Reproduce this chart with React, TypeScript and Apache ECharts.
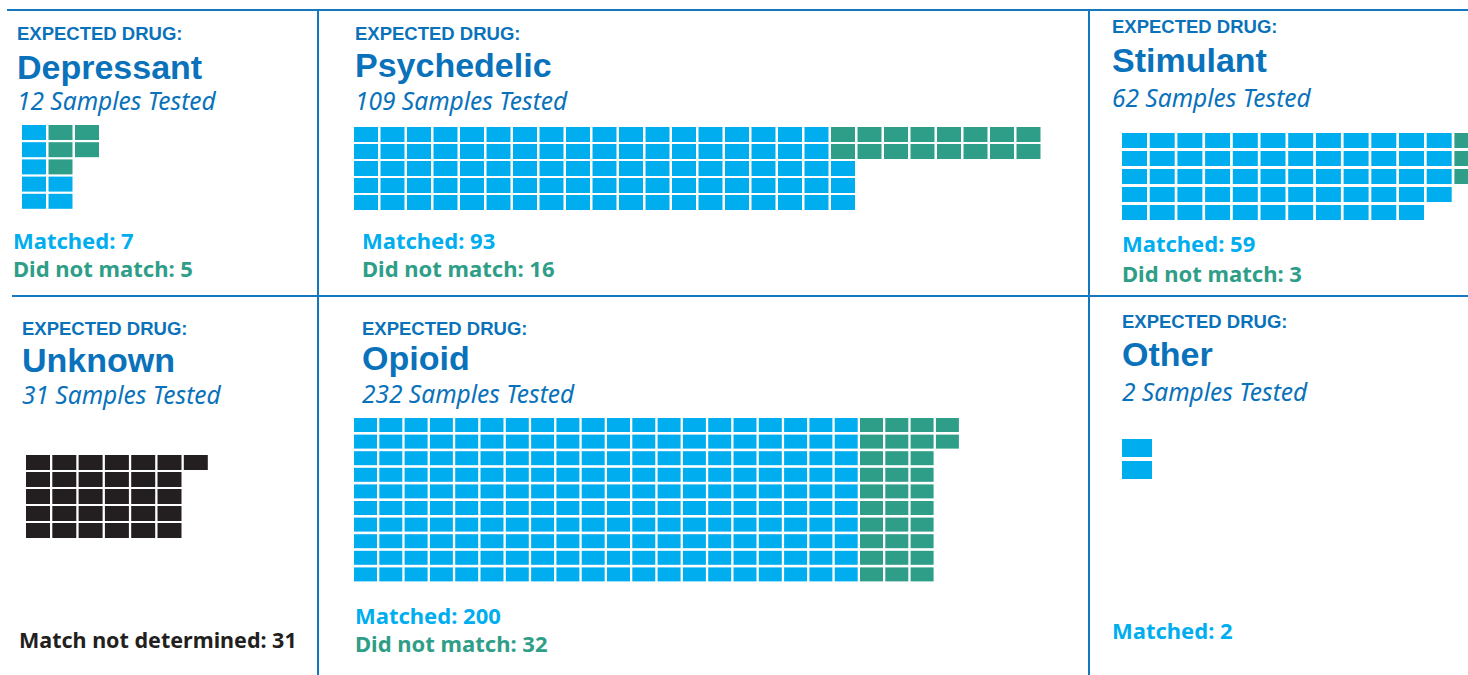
import React, { useEffect, useRef } from "react";
import * as echarts from "echarts";

// ---- DATA ----
const drugs = ["Depressant", "Psychedelic", "Stimulant", "Unknown", "Opioid", "Other"];
const samplesTested = [12, 109, 62, 31, 232, 2];
const matchedCounts = [7, 93, 59, 0, 200, 2];
const notMatchedCounts = [5, 16, 3, 0, 32, 0];
const undeterminedCounts = [0, 0, 0, 31, 0, 0];

// cells per waffle row (top row first)
const depressantMatchedRows = [1, 1, 1, 2, 2];
const depressantNotMatchedRows = [2, 2, 1, 0, 0];
const psychedelicMatchedRows = [18, 18, 19, 19, 19];
const psychedelicNotMatchedRows = [8, 8, 0, 0, 0];
const stimulantMatchedRows = [12, 12, 12, 12, 11];
const stimulantNotMatchedRows = [1, 1, 1, 0, 0];
const unknownUndeterminedRows = [7, 6, 6, 6, 6];
const opioidMatchedRows = [20, 20, 20, 20, 20, 20, 20, 20, 20, 20];
const opioidNotMatchedRows = [4, 4, 3, 3, 3, 3, 3, 3, 3, 3];
const otherMatchedRows = [1, 1];

const rowsMatched = [depressantMatchedRows, psychedelicMatchedRows, stimulantMatchedRows, [], opioidMatchedRows, otherMatchedRows];
const rowsNotMatched = [depressantNotMatchedRows, psychedelicNotMatchedRows, stimulantNotMatchedRows, [], opioidNotMatchedRows, []];
const rowsUndetermined = [[], [], [], unknownUndeterminedRows, [], []];

// ---- STYLE / LAYOUT ----
const C_MATCH = "#00AEEF";
const C_NOMATCH = "#2E9E88";
const C_UNDET = "#231F20";
const C_HEAD = "#0A72BA";
const C_LINE = "#1477C0";
const PAGE_W = 1468;

const layout = [
  { tx: 17, headY: 40, titleY: 79, subY: 109, lx: 13, l1Y: 248, l2Y: 276, g: { left: 22, top: 125, cols: 3, rows: 5, px: 26.5, py: 17.2, cw: 24, ch: 15 } },
  { tx: 355, headY: 40, titleY: 77, subY: 109, lx: 362, l1Y: 248, l2Y: 276, g: { left: 354, top: 127, cols: 26, rows: 5, px: 26.5, py: 17, cw: 24, ch: 15 } },
  { tx: 1112, headY: 33, titleY: 72, subY: 106, lx: 1122, l1Y: 251, l2Y: 281, g: { left: 1122, top: 133, cols: 13, rows: 5, px: 27.7, py: 18, cw: 25, ch: 15 } },
  { tx: 22, headY: 335, titleY: 372, subY: 403, lx: 19, l1Y: 647, l2Y: 0, g: { left: 26, top: 455, cols: 7, rows: 5, px: 26.3, py: 17, cw: 24, ch: 15 } },
  { tx: 362, headY: 335, titleY: 370, subY: 402, lx: 355, l1Y: 623, l2Y: 651, g: { left: 354, top: 418, cols: 24, rows: 10, px: 25.3, py: 16.6, cw: 23, ch: 14 } },
  { tx: 1122, headY: 328, titleY: 366, subY: 400, lx: 1112, l1Y: 638, l2Y: 0, g: { left: 1122, top: 439, cols: 1, rows: 2, px: 30, py: 22, cw: 30, ch: 18 } },
];

const SANS = "'Liberation Sans', Arial, sans-serif";
const NOTO = "'Noto Sans', sans-serif";

function txt(x: number, baseline: number, text: string, size: number, family: string, weight: string, fstyle: string, color: string) {
  return {
    type: "text",
    x,
    y: baseline - 0.35 * size,
    silent: true,
    style: {
      text,
      fill: color,
      fontSize: size,
      fontFamily: family,
      fontWeight: weight,
      fontStyle: fstyle,
      verticalAlign: "middle",
      align: "left",
    },
  };
}

function buildCells(i: number) {
  const cells: number[][] = [];
  const nRows = Math.max(rowsMatched[i].length, rowsNotMatched[i].length, rowsUndetermined[i].length);
  for (let r = 0; r < nRows; r++) {
    let c = 0;
    for (let k = 0; k < (rowsMatched[i][r] || 0); k++) cells.push([c++, r, 0]);
    for (let k = 0; k < (rowsNotMatched[i][r] || 0); k++) cells.push([c++, r, 1]);
    for (let k = 0; k < (rowsUndetermined[i][r] || 0); k++) cells.push([c++, r, 2]);
  }
  return cells;
}

export default function App() {
  const ref = useRef<HTMLDivElement>(null);
  useEffect(() => {
    if (!ref.current) return;
    const chart = echarts.init(ref.current, null, { renderer: "svg" });
    const colors = [C_MATCH, C_NOMATCH, C_UNDET];
    const grids: any[] = [];
    const xAxes: any[] = [];
    const yAxes: any[] = [];
    const series: any[] = [];
    const graphics: any[] = [];

    const line = (x1: number, y1: number, x2: number, y2: number) => ({
      type: "line",
      silent: true,
      shape: { x1, y1, x2, y2 },
      style: { stroke: C_LINE, lineWidth: 2 },
    });
    graphics.push(line(7, 10, PAGE_W, 10));
    graphics.push(line(12, 296, PAGE_W, 296));
    graphics.push(line(318, 10, 318, 675));
    graphics.push(line(1089, 10, 1089, 675));

    layout.forEach((L, i) => {
      const g = L.g;
      // keep the grid inside the page; extra columns are drawn unclipped past its edge
      const axisCols = Math.min(g.cols, Math.floor((PAGE_W - g.left) / g.px));
      grids.push({ left: g.left, top: g.top, width: axisCols * g.px, height: g.rows * g.py, containLabel: false });
      xAxes.push({ type: "value", gridIndex: i, min: 0, max: axisCols, show: false });
      yAxes.push({ type: "value", gridIndex: i, min: 0, max: g.rows, inverse: true, show: false });
      const gapX = g.px - g.cw;
      const gapY = g.py - g.ch;
      series.push({
        type: "custom",
        xAxisIndex: i,
        yAxisIndex: i,
        clip: false,
        silent: true,
        data: buildCells(i),
        renderItem: (params: any, api: any) => {
          const p = api.coord([api.value(0), api.value(1)]);
          const s = api.size([1, 1]);
          return {
            type: "rect",
            shape: { x: p[0], y: p[1], width: s[0] - gapX, height: s[1] - gapY },
            style: { fill: colors[api.value(2)] },
          };
        },
      });

      graphics.push(txt(L.tx, L.headY, "EXPECTED DRUG:", 18.5, SANS, "bold", "normal", C_HEAD));
      graphics.push(txt(L.tx, L.titleY, drugs[i], 34, SANS, "bold", "normal", C_HEAD));
      graphics.push(txt(L.tx, L.subY, `${samplesTested[i]} Samples Tested`, 24.5, NOTO, "normal", "italic", C_HEAD));
      if (undeterminedCounts[i] > 0) {
        graphics.push(txt(L.lx, L.l1Y, `Match not determined: ${undeterminedCounts[i]}`, 21.5, NOTO, "bold", "normal", C_UNDET));
      } else {
        graphics.push(txt(L.lx, L.l1Y, `Matched: ${matchedCounts[i]}`, 22, NOTO, "bold", "normal", C_MATCH));
        if (notMatchedCounts[i] > 0) {
          graphics.push(txt(L.lx, L.l2Y, `Did not match: ${notMatchedCounts[i]}`, 22, NOTO, "bold", "normal", C_NOMATCH));
        }
      }
    });

    chart.setOption({
      animation: false,
      backgroundColor: "#ffffff",
      grid: grids,
      xAxis: xAxes,
      yAxis: yAxes,
      series,
      graphic: graphics,
    });
    return () => chart.dispose();
  }, []);
  return <div ref={ref} style={{ position: "fixed", left: 0, top: 0, width: PAGE_W, height: 675 }} />;
}
